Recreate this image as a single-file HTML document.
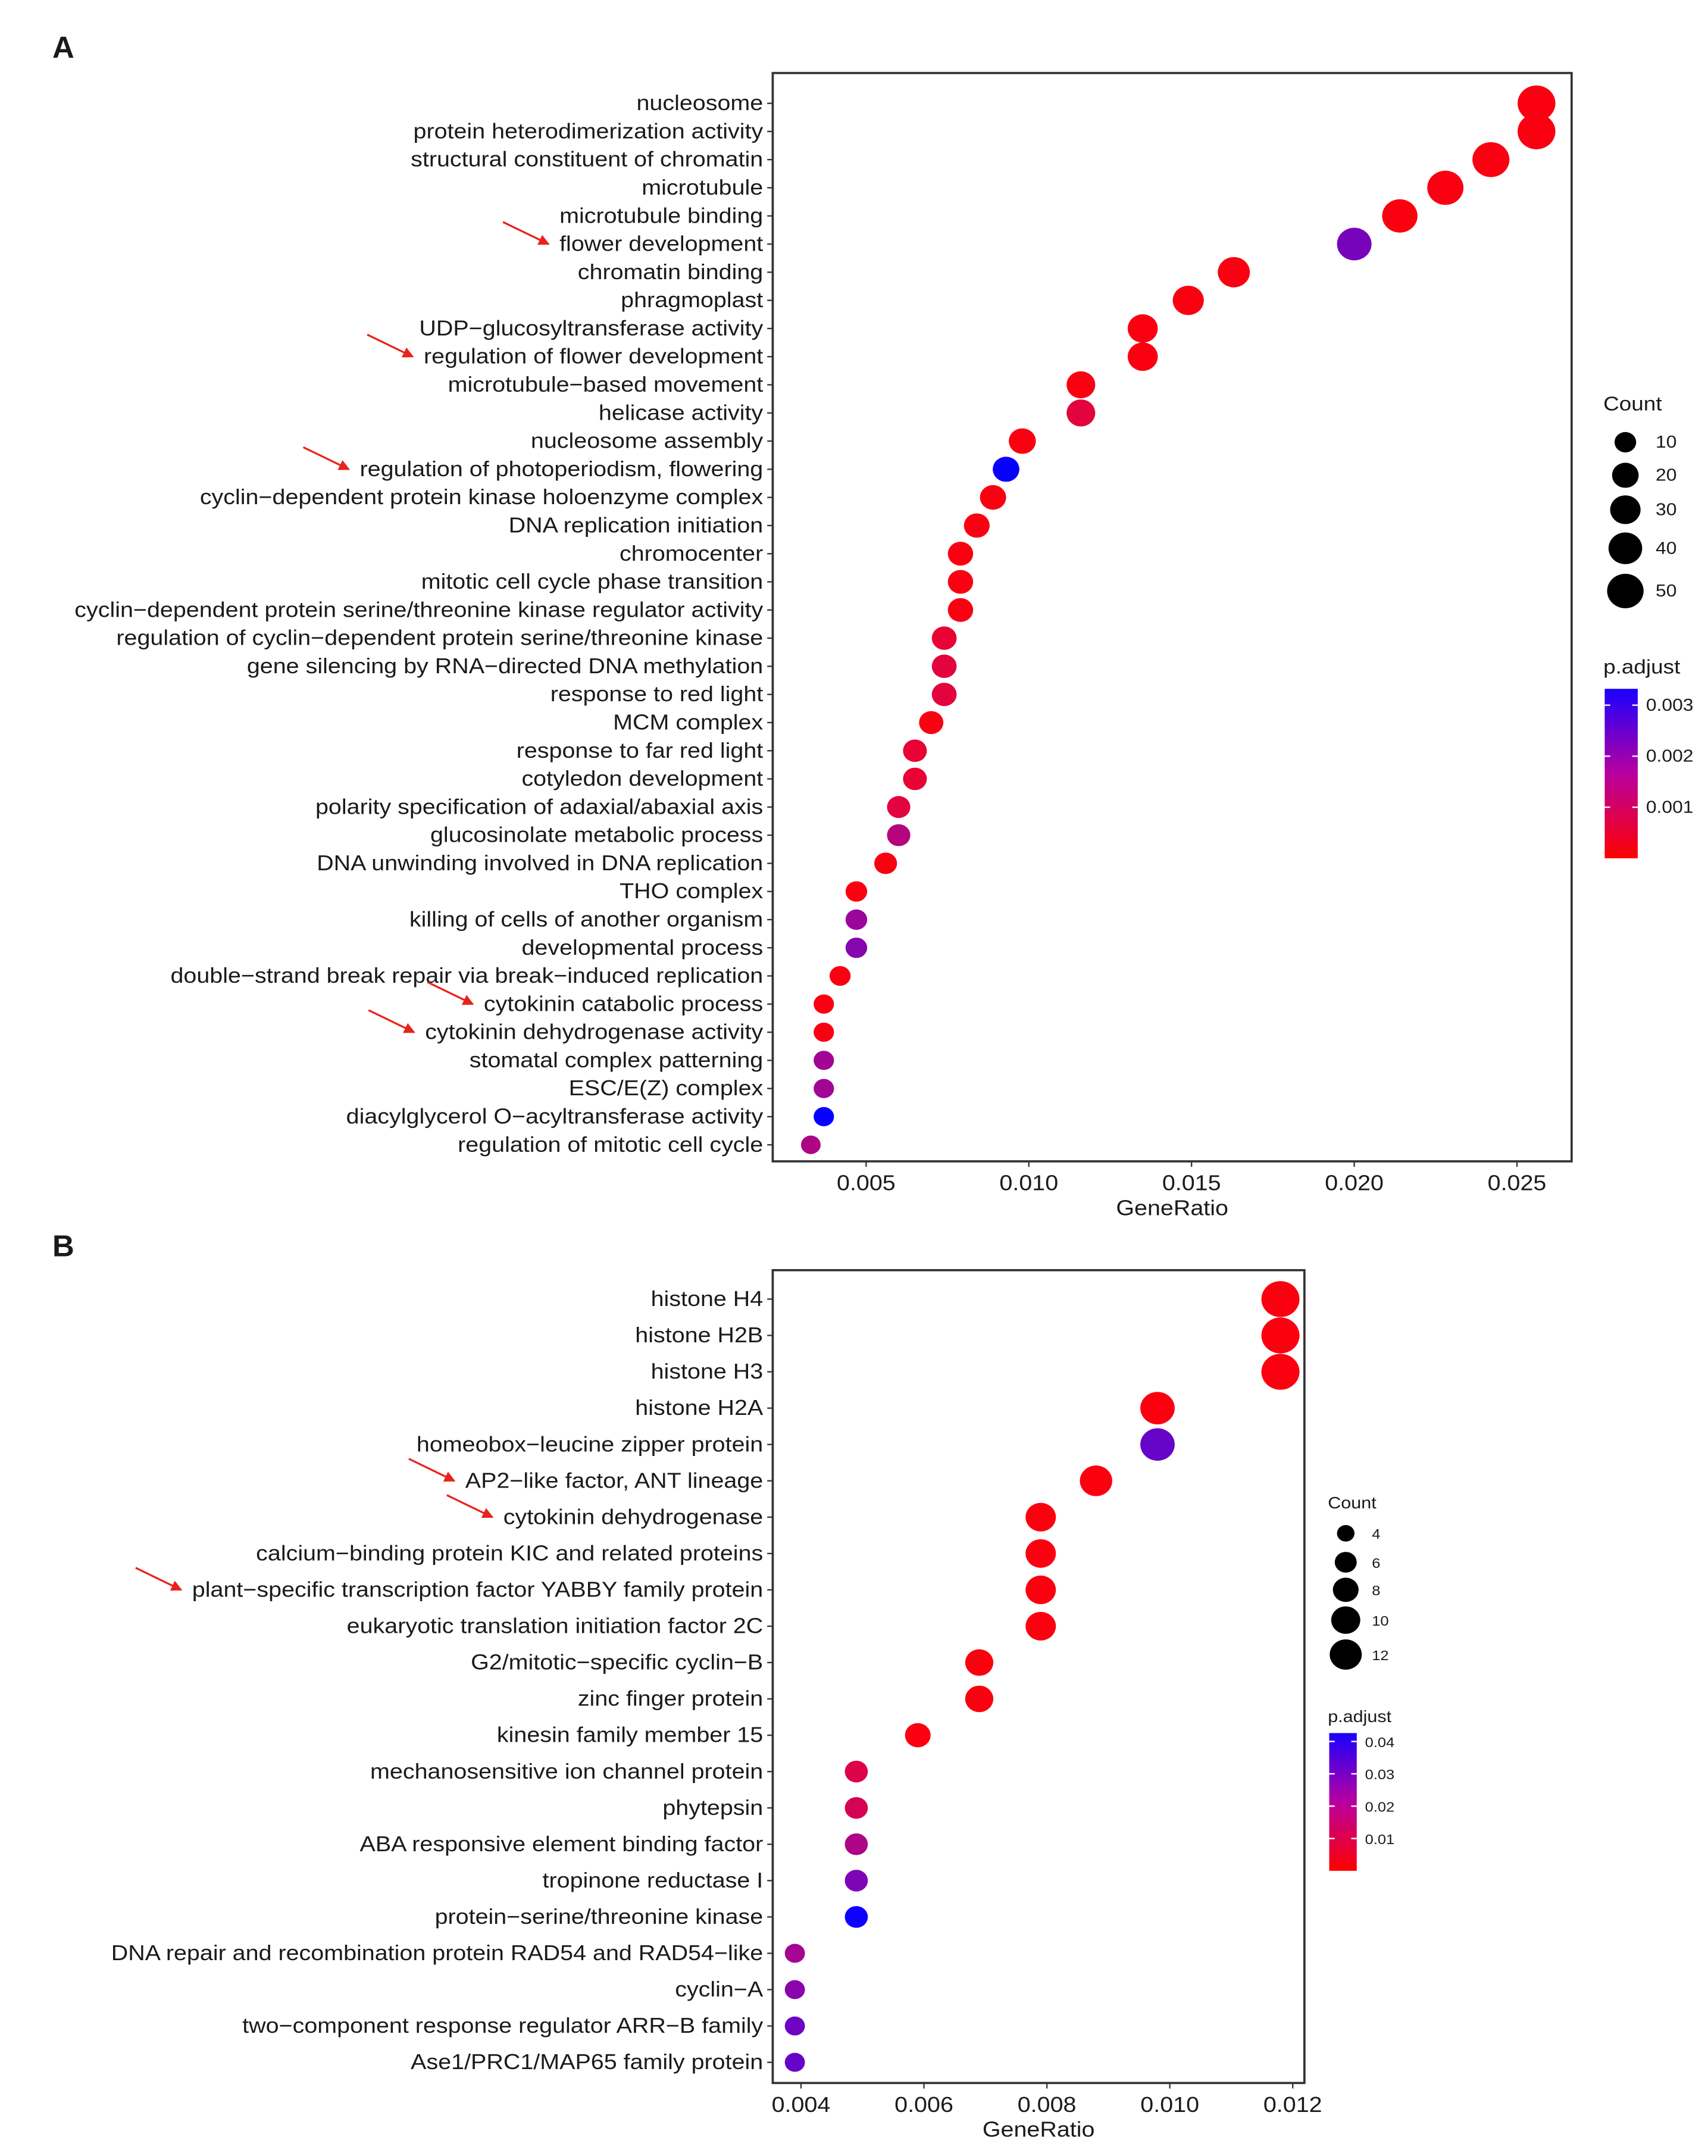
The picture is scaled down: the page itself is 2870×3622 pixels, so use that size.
<!DOCTYPE html>
<html><head><meta charset="utf-8"><style>
html,body{margin:0;padding:0;background:#fff;}
svg{display:block;}
text{font-family:"Liberation Sans",Arial,sans-serif;fill:#1a1a1a;}
</style></head><body>
<svg id="fig" width="2870" height="3622" viewBox="0 0 1240 1565" preserveAspectRatio="none" xmlns="http://www.w3.org/2000/svg">
<defs>
<linearGradient id="gA" x1="0" y1="1" x2="0" y2="0"><stop offset="0" stop-color="#ff0000"/><stop offset="0.5" stop-color="#b8009f"/><stop offset="1" stop-color="#1a00ff"/></linearGradient>
<marker id="ah" markerWidth="8" markerHeight="8" refX="7" refY="4" orient="auto" markerUnits="userSpaceOnUse"><path d="M0,0 L8,4 L0,8 Z" fill="#e8231c"/></marker>
</defs>
<text x="38" y="42" font-size="22" font-weight="bold">A</text>
<text x="38" y="912" font-size="22" font-weight="bold">B</text>
<g id="A"></g>
<g id="B"></g>
</svg>
<script>
const catsA = ["nucleosome","protein heterodimerization activity","structural constituent of chromatin","microtubule","microtubule binding","flower development","chromatin binding","phragmoplast","UDP\u2212glucosyltransferase activity","regulation of flower development","microtubule\u2212based movement","helicase activity","nucleosome assembly","regulation of photoperiodism, flowering","cyclin\u2212dependent protein kinase holoenzyme complex","DNA replication initiation","chromocenter","mitotic cell cycle phase transition","cyclin\u2212dependent protein serine/threonine kinase regulator activity","regulation of cyclin\u2212dependent protein serine/threonine kinase","gene silencing by RNA\u2212directed DNA methylation","response to red light","MCM complex","response to far red light","cotyledon development","polarity specification of adaxial/abaxial axis","glucosinolate metabolic process","DNA unwinding involved in DNA replication","THO complex","killing of cells of another organism","developmental process","double\u2212strand break repair via break\u2212induced replication","cytokinin catabolic process","cytokinin dehydrogenase activity","stomatal complex patterning","ESC/E(Z) complex","diacylglycerol O\u2212acyltransferase activity","regulation of mitotic cell cycle"];
const ratioA = [0.0256,0.0256,0.0242,0.0228,0.0214,0.0200,0.0163,0.0149,0.0135,0.0135,0.0116,0.0116,0.0098,0.0093,0.0089,0.0084,0.0079,0.0079,0.0079,0.0074,0.0074,0.0074,0.0070,0.0065,0.0065,0.0060,0.0060,0.0056,0.0047,0.0047,0.0047,0.0042,0.0037,0.0037,0.0037,0.0037,0.0037,0.0033];
const countA = [55,55,52,49,46,43,35,32,29,29,25,25,21,20,19,18,17,17,17,16,16,16,15,14,14,13,13,12,10,10,10,9,8,8,8,8,8,7];
const padjA = [0.0001,0.0001,0.0001,0.0001,0.0001,0.0022,0.0001,0.0001,0.0001,0.0001,0.0001,0.0005,0.0001,0.0033,0.0001,0.0001,0.0001,0.0001,0.0001,0.0004,0.0005,0.0005,0.0001,0.0004,0.0004,0.0005,0.0013,0.0001,0.0001,0.0017,0.0020,0.0001,0.0001,0.0001,0.0016,0.0016,0.0033,0.0014];
const ticksA = [0.005,0.010,0.015,0.020,0.025];
const tickLabelsA = ["0.005","0.010","0.015","0.020","0.025"];
const legCountA = [10,20,30,40,50];
const legPA = [0.001,0.002,0.003];
const legPLabelsA = ["0.001","0.002","0.003"];
const arrowsA = ["flower development","regulation of flower development","regulation of photoperiodism, flowering","cytokinin catabolic process","cytokinin dehydrogenase activity"];

const catsB = ["histone H4","histone H2B","histone H3","histone H2A","homeobox\u2212leucine zipper protein","AP2\u2212like factor, ANT lineage","cytokinin dehydrogenase","calcium\u2212binding protein KIC and related proteins","plant\u2212specific transcription factor YABBY family protein","eukaryotic translation initiation factor 2C","G2/mitotic\u2212specific cyclin\u2212B","zinc finger protein","kinesin family member 15","mechanosensitive ion channel protein","phytepsin","ABA responsive element binding factor","tropinone reductase I","protein\u2212serine/threonine kinase","DNA repair and recombination protein RAD54 and RAD54\u2212like","cyclin\u2212A","two\u2212component response regulator ARR\u2212B family","Ase1/PRC1/MAP65 family protein"];
const ratioB = [0.0118,0.0118,0.0118,0.0098,0.0098,0.0088,0.0079,0.0079,0.0079,0.0079,0.0069,0.0069,0.0059,0.0049,0.0049,0.0049,0.0049,0.0049,0.0039,0.0039,0.0039,0.0039];
const countB = [12,12,12,10,10,9,8,8,8,8,7,7,6,5,5,5,5,5,4,4,4,4];
const padjB = [0.001,0.001,0.001,0.001,0.031,0.001,0.001,0.001,0.001,0.001,0.001,0.001,0.001,0.008,0.010,0.018,0.027,0.042,0.020,0.025,0.030,0.031];
const ticksB = [0.004,0.006,0.008,0.010,0.012];
const tickLabelsB = ["0.004","0.006","0.008","0.010","0.012"];
const legCountB = [4,6,8,10,12];
const legPB = [0.01,0.02,0.03,0.04];
const legPLabelsB = ["0.01","0.02","0.03","0.04"];
const arrowsB = ["AP2\u2212like factor, ANT lineage","cytokinin dehydrogenase","plant\u2212specific transcription factor YABBY family protein"];

const NS="http://www.w3.org/2000/svg";
const SX=1.1;
function mk(parent,tag,attrs){const e=document.createElementNS(NS,tag);for(const k in attrs)e.setAttribute(k,attrs[k]);parent.appendChild(e);return e;}
function colorFor(t){t=Math.max(0,Math.min(1,t));const r=Math.round(255*Math.pow(1-t,0.7));const b=Math.round(255*Math.pow(t,0.75));return `rgb(${r},${Math.round(20*t*(1-t))},${b})`;}
function stxt(parent,x,y,fs,anchor,str){
  const t=mk(parent,'text',{x:0,y:0,'font-size':fs,'text-anchor':anchor,transform:`translate(${x},${y}) scale(${SX},1)`});
  t.textContent=str;return t;
}

function panel(g,o){
  const {cats,ratio,count,padj,ticks,tickLabels,legCount,legP,legPLabels,arrows,box,xdom,pmax,rowTop,rowBot,rfn,leg,fs,lfs,name}=o;
  const xs=v=>box.x0+(v-xdom[0])/(xdom[1]-xdom[0])*(box.x1-box.x0);
  const step=(rowBot-rowTop)/(cats.length-1);
  const ys=i=>rowTop+i*step;
  let r=mk(g,'rect',{x:box.x0,y:box.y0,width:box.x1-box.x0,height:box.y1-box.y0,fill:'none',stroke:'#333',"stroke-width":1.6});
  
  
  cats.forEach((c,i)=>{
    const y=ys(i);
    mk(g,'line',{x1:box.x0-4,x2:box.x0,y1:y,y2:y,stroke:'#333','stroke-width':1});
    const t=stxt(g,box.x0-7,y+5,fs,'end',c);
    
    
    if(arrows.includes(c)){
      const w=t.getComputedTextLength()*SX;const ex=box.x0-7-w-8;
      const a=mk(g,'line',{x1:ex-33,y1:y-16,x2:ex,y2:y,stroke:'#e8231c','stroke-width':1.4,'marker-end':'url(#ah)'});
      
      
    }
  });
  cats.forEach((c,i)=>{
    const rr=rfn(count[i]);
    const d=mk(g,'ellipse',{cx:xs(ratio[i]),cy:ys(i),rx:rr*1.06,ry:rr,fill:colorFor(padj[i]/pmax)});
    
    
  });
  ticks.forEach((v,i)=>{
    const x=xs(v);
    mk(g,'line',{x1:x,x2:x,y1:box.y1,y2:box.y1+4,stroke:'#333','stroke-width':1});
    const t=stxt(g,x,box.y1+21,fs,'middle',tickLabels[i]);
    
    
  });
  const xt=stxt(g,(box.x0+box.x1)/2,box.y1+39,fs,'middle','GeneRatio');
  
  
  const ct=stxt(g,leg.x,leg.cy,lfs+2,'start','Count');
  
  
  legCount.forEach((c,i)=>{
    const y=leg.cys[i];
    const d=mk(g,'ellipse',{cx:leg.dx,cy:y,rx:leg.lr(c)*1.06,ry:leg.lr(c),fill:'#000'});
    
    
    const t=stxt(g,leg.tx,y+4,lfs,'start',String(c));
    
    
  });
  const pt=stxt(g,leg.x,leg.py,lfs+2,'start','p.adjust');
  
  
  const bar=mk(g,'rect',{x:leg.bx,y:leg.by0,width:leg.bw,height:leg.by1-leg.by0,fill:'url(#gA)'});
  
  
  legP.forEach((v,i)=>{
    const y=leg.by1-(v/pmax)*(leg.by1-leg.by0);
    mk(g,'line',{x1:leg.bx,x2:leg.bx+4,y1:y,y2:y,stroke:'#fff','stroke-width':1});
    mk(g,'line',{x1:leg.bx+leg.bw-4,x2:leg.bx+leg.bw,y1:y,y2:y,stroke:'#fff','stroke-width':1});
    const t=stxt(g,leg.bx+leg.bw+6,y+4,lfs,'start',legPLabels[i]);
    
    
  });
}
panel(document.getElementById('A'),{name:'panel-a',cats:catsA,ratio:ratioA,count:countA,padj:padjA,ticks:ticksA,tickLabels:tickLabelsA,legCount:legCountA,legP:legPA,legPLabels:legPLabelsA,arrows:arrowsA,
  box:{x0:561,x1:1141,y0:53,y1:843},xdom:[0.00213,0.02668],pmax:0.00332,rowTop:75,rowBot:831,
  rfn:c=>3.3+1.3*Math.sqrt(c),fs:15.5,lfs:12.5,
  leg:{x:1164,cy:298,dx:1180,tx:1202,cys:[321,345,370,398,429],lr:c=>3.3+1.3*Math.sqrt(c),py:489,bx:1165,bw:24,by0:500,by1:623}});
panel(document.getElementById('B'),{name:'panel-b',cats:catsB,ratio:ratioB,count:countB,padj:padjB,ticks:ticksB,tickLabels:tickLabelsB,legCount:legCountB,legP:legPB,legPLabels:legPLabelsB,arrows:arrowsB,
  box:{x0:561,x1:947,y0:922,y1:1512},xdom:[0.00354,0.01219],pmax:0.0426,rowTop:943,rowBot:1497,
  rfn:c=>-1.5+4.2*Math.sqrt(c),fs:15.5,lfs:10,
  leg:{x:964,cy:1095,dx:977,tx:996,cys:[1113,1134,1154,1176,1201],lr:c=>-0.8+3.4*Math.sqrt(c),py:1250,bx:965,bw:20,by0:1258,by1:1358}});
</script>
</body></html>
